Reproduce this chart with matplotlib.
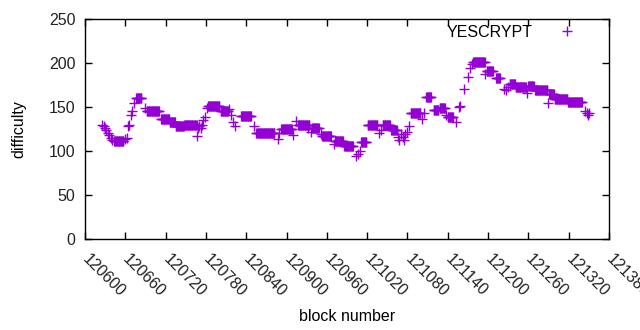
import numpy as np
import matplotlib
matplotlib.use("Agg")
import matplotlib.pyplot as plt

# single points (block, difficulty)
point_blocks = [120626, 120628, 120630, 120632, 120634, 120636, 120638, 120640,
                120660, 120662, 120664, 120666, 120668, 120670, 120673, 120690,
                120766, 120768, 120770, 120772, 120774, 120776, 120778, 120781,
                120815, 120818, 120821, 120824, 120852, 120887, 120889, 120910,
                120914, 120932, 120937, 120951, 120970, 121003, 121006, 121009,
                121038, 121040, 121066, 121068, 121070, 121073, 121075, 121077,
                121080, 121082, 121101, 121104, 121138, 121152, 121156, 121158,
                121164, 121170, 121173, 121176, 121196, 121224, 121227, 121229,
                121232, 121258, 121289, 121344, 121347, 121349, 121350]
point_values = [130, 128, 126, 124, 121, 118, 115, 113,
                114, 115, 128, 129, 141, 146, 154, 149,
                117, 126, 128, 126, 130, 135, 139, 149,
                148, 141, 133, 128, 128, 114, 121, 118,
                134.5, 126, 122, 119, 107.6, 94.7, 97, 100,
                121, 124, 116, 113, 119, 116, 113, 119,
                122, 128, 136, 143, 141, 133, 150, 151,
                171, 184.5, 194, 199, 188, 171, 169, 173,
                176, 166, 154, 146, 143, 141, 142.8]

# runs of constant difficulty (first block, last block, difficulty)
run_starts = [120643, 120676, 120692, 120713, 120726, 120735, 120748, 120783,
              120802, 120832, 120855, 120892, 120917, 120938, 120953, 120972,
              120986, 121011, 121021, 121043, 121056, 121085, 121108, 121119,
              121128, 121140, 121178, 121198, 121212, 121233, 121241, 121260,
              121270, 121291, 121299, 121319]
run_ends = [120657, 120684, 120710, 120725, 120734, 120747, 120766, 120800,
            120813, 120847, 120882, 120908, 120934, 120948, 120966, 120984,
            120999, 121019, 121035, 121054, 121064, 121099, 121115, 121126,
            121136, 121148, 121195, 121207, 121218, 121240, 121256, 121268,
            121288, 121298, 121318, 121340]
run_values = [111, 160, 145, 136, 133, 128, 130, 151,
              145, 139.5, 121, 124.5, 129.5, 126, 116.7, 111,
              105.3, 110, 130, 130, 123.5, 143, 161, 146.6,
              148.5, 138.4, 201, 191, 182.6, 176, 172.4, 173.5,
              169, 165, 158.7, 155.7]

x_ticks = list(range(120600, 121381, 60))
y_ticks = [0, 50, 100, 150, 200, 250]

blocks = list(point_blocks)
values = list(point_values)
for s, e, v in zip(run_starts, run_ends, run_values):
    for b in range(s, e + 1):
        blocks.append(b)
        values.append(v)
order = np.argsort(blocks)
blocks = np.array(blocks)[order]
values = np.array(values)[order]

plt.rcParams['font.family'] = ['Liberation Sans', 'DejaVu Sans']
plt.rcParams['font.size'] = 11.5

fig = plt.figure(figsize=(6.4, 3.3), dpi=100)
ax = fig.add_axes([85/640, 1 - 239/330, (609-85)/640, (239-19)/330])

ax.plot(blocks, values, linestyle='none', marker='+', markersize=6.5,
        markeredgewidth=1.0, color='#9400D3', label='YESCRYPT')

ax.set_xlim(120600, 121380)
ax.set_ylim(0, 250)
ax.set_xticks(x_ticks)
ax.set_yticks(y_ticks)
ax.set_xticklabels([str(t) for t in x_ticks], rotation=-45, ha='left',
                   va='center', rotation_mode='anchor')
ax.tick_params(direction='in', length=5, width=1, top=True, right=True,
               colors='black', labelcolor='#222222')
ax.tick_params(axis='x', pad=13)
ax.tick_params(axis='y', pad=7)
for sp in ax.spines.values():
    sp.set_linewidth(1)
    sp.set_color('black')

ax.set_xlabel('block number')
ax.xaxis.set_label_coords(0.5, -0.318)
ax.set_ylabel('difficulty', labelpad=16)

leg = ax.legend(loc='upper right', frameon=False, markerfirst=False,
                handlelength=4.0, handletextpad=0.2, borderaxespad=0.2,
                bbox_to_anchor=(1.0, 1.017))

fig.savefig('out.png', dpi=100)
